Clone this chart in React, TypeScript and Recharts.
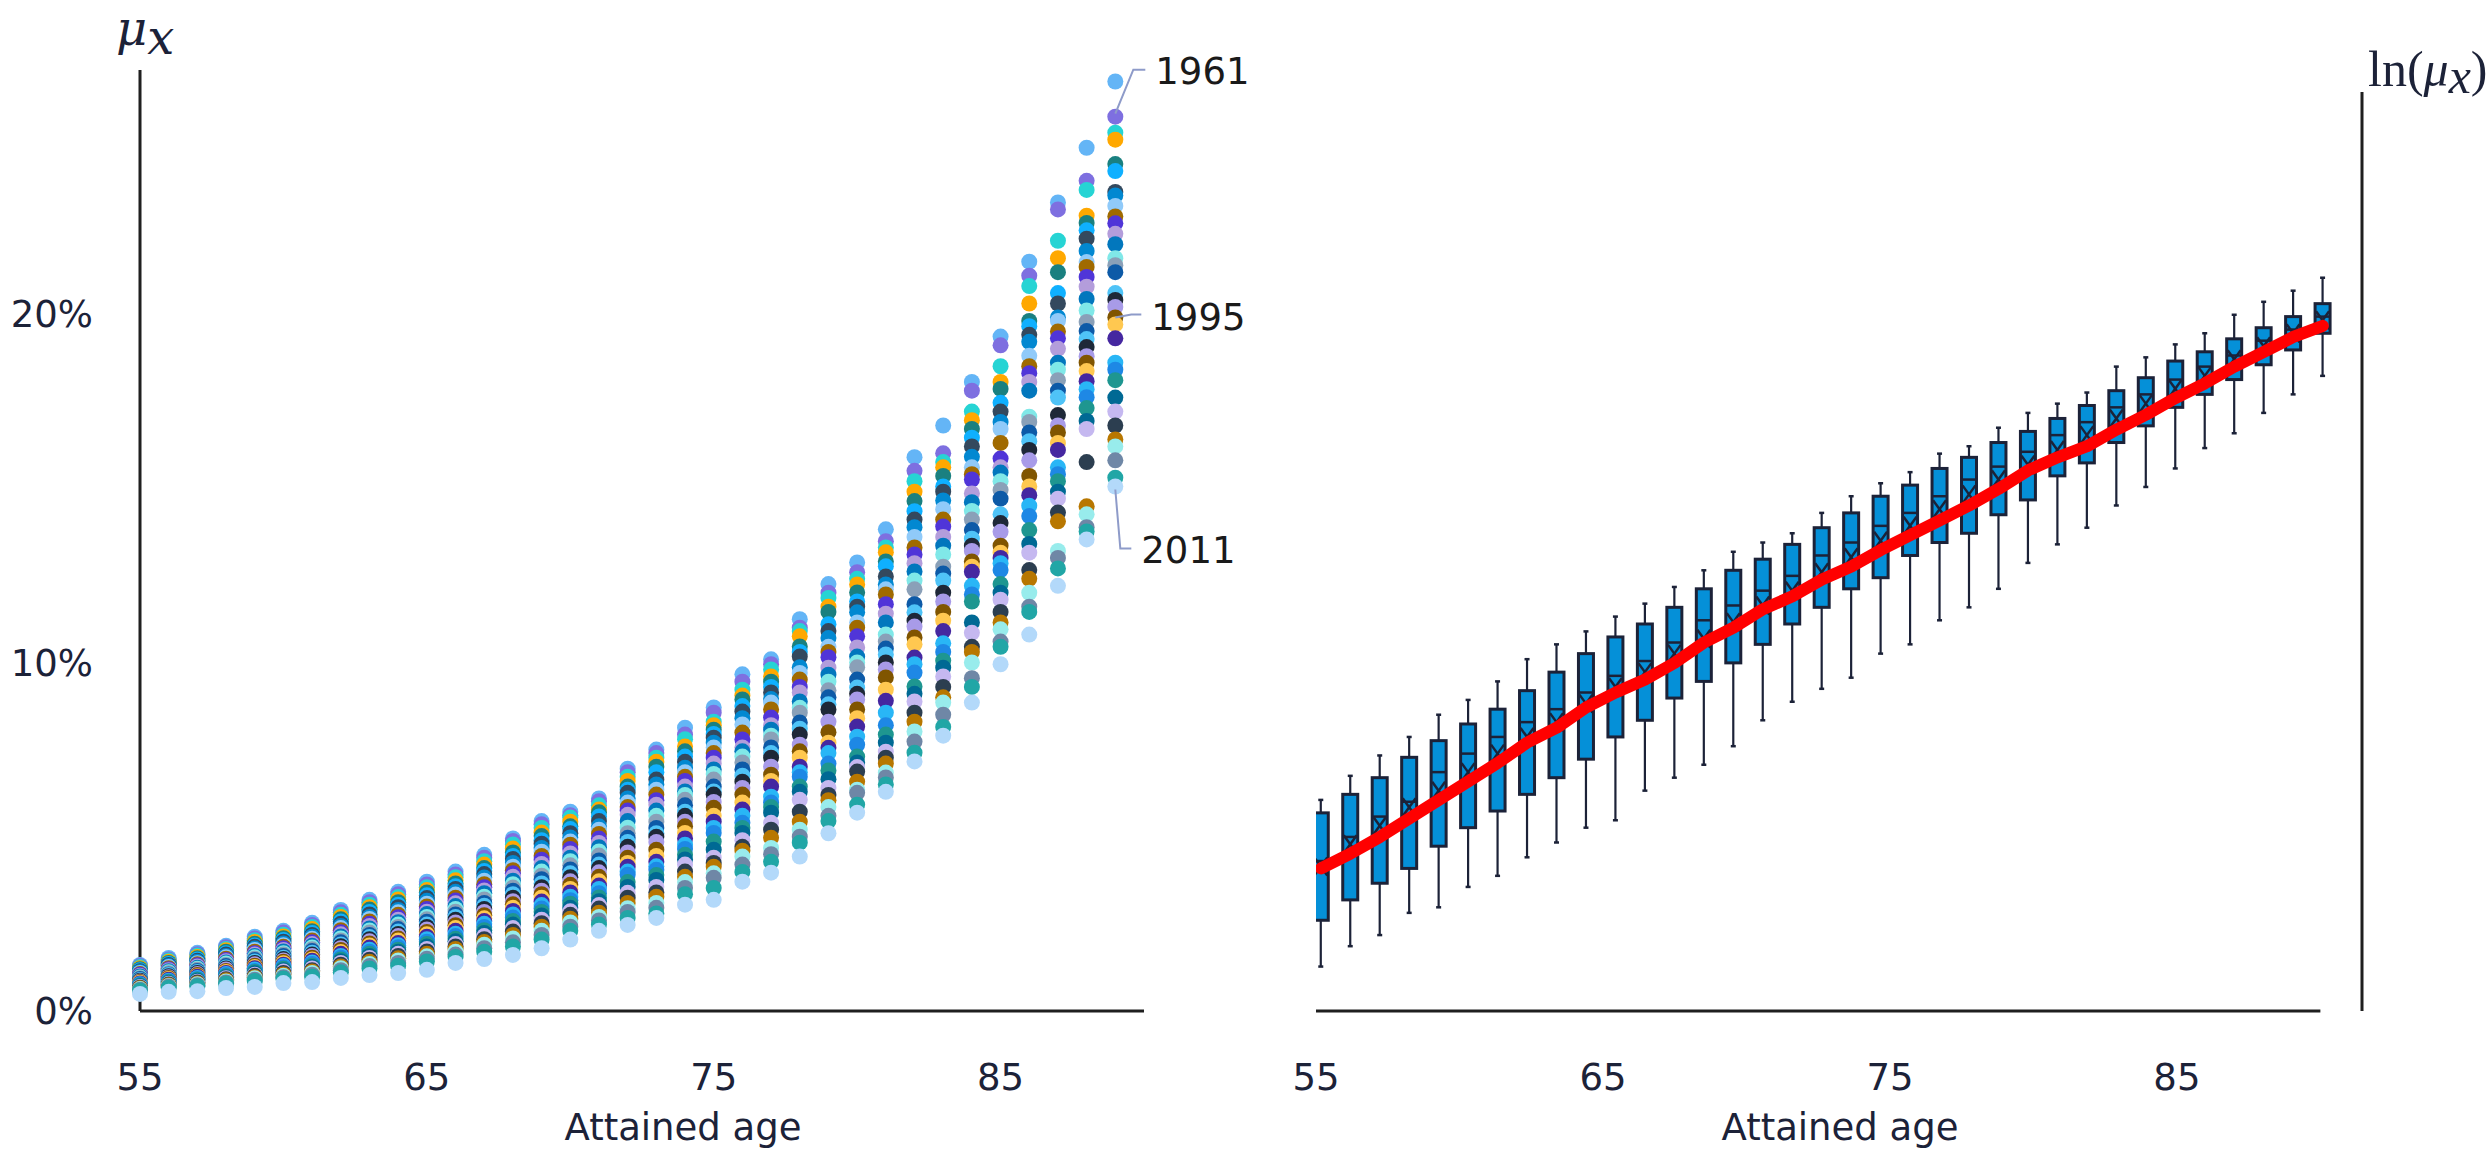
import React from "react";
import {
  ScatterChart,
  Scatter,
  ComposedChart,
  Bar,
  Line,
  XAxis,
  YAxis,
  ReferenceLine,
} from "recharts";

// attained ages shown in both panels
const ages = [
  55, 56, 57, 58, 59, 60, 61, 62, 63, 64, 65, 66, 67, 68, 69, 70, 71, 72,
  73, 74, 75, 76, 77, 78, 79, 80, 81, 82, 83, 84, 85, 86, 87, 88, 89,
];

// mu_x (%) read per age column, top to bottom
const mu55 = [1.32, 1.29, 1.26, 1.23, 1.2, 1.17, 1.14, 1.12, 1.09, 1.06, 1.04, 1.01, 0.99, 0.96, 0.94, 0.92, 0.89, 0.87, 0.85, 0.83, 0.81, 0.79, 0.77, 0.75, 0.73, 0.71, 0.69, 0.67, 0.65, 0.63, 0.61, 0.59, 0.49];
const mu56 = [1.52, 1.48, 1.45, 1.41, 1.38, 1.35, 1.32, 1.29, 1.26, 1.23, 1.2, 1.17, 1.14, 1.11, 1.08, 1.05, 1.03, 1.0, 0.97, 0.95, 0.92, 0.9, 0.87, 0.85, 0.83, 0.8, 0.78, 0.76, 0.74, 0.72, 0.7, 0.67, 0.55];
const mu57 = [1.67, 1.63, 1.59, 1.55, 1.51, 1.48, 1.44, 1.41, 1.37, 1.34, 1.31, 1.28, 1.24, 1.21, 1.18, 1.15, 1.12, 1.09, 1.06, 1.03, 1.0, 0.98, 0.95, 0.92, 0.9, 0.87, 0.84, 0.82, 0.79, 0.77, 0.74, 0.71, 0.57];
const mu58 = [1.87, 1.83, 1.78, 1.74, 1.7, 1.66, 1.62, 1.58, 1.54, 1.5, 1.46, 1.43, 1.39, 1.36, 1.32, 1.29, 1.25, 1.22, 1.19, 1.15, 1.12, 1.09, 1.06, 1.03, 1.0, 0.97, 0.94, 0.91, 0.88, 0.85, 0.82, 0.79, 0.66];
const mu59 = [2.13, 2.08, 2.03, 1.98, 1.93, 1.88, 1.84, 1.79, 1.75, 1.7, 1.66, 1.62, 1.58, 1.54, 1.5, 1.46, 1.42, 1.38, 1.34, 1.3, 1.26, 1.23, 1.19, 1.15, 1.12, 1.08, 1.04, 1.01, 0.97, 0.94, 0.9, 0.86, 0.69];
const mu60 = [2.3, 2.25, 2.19, 2.14, 2.09, 2.04, 1.99, 1.94, 1.89, 1.84, 1.8, 1.75, 1.71, 1.66, 1.62, 1.58, 1.53, 1.49, 1.45, 1.41, 1.37, 1.33, 1.29, 1.25, 1.21, 1.17, 1.13, 1.09, 1.05, 1.01, 0.97, 0.93, 0.8];
const mu61 = [2.53, 2.47, 2.41, 2.35, 2.29, 2.24, 2.18, 2.13, 2.07, 2.02, 1.97, 1.92, 1.87, 1.82, 1.77, 1.72, 1.67, 1.62, 1.58, 1.53, 1.48, 1.44, 1.39, 1.35, 1.3, 1.26, 1.22, 1.17, 1.13, 1.09, 1.04, 0.99, 0.83];
const mu62 = [2.9, 2.83, 2.76, 2.7, 2.63, 2.57, 2.5, 2.44, 2.38, 2.32, 2.26, 2.2, 2.14, 2.08, 2.02, 1.97, 1.91, 1.86, 1.8, 1.75, 1.69, 1.64, 1.58, 1.53, 1.48, 1.43, 1.38, 1.33, 1.28, 1.23, 1.17, 1.11, 0.95];
const mu63 = [3.19, 3.12, 3.05, 2.98, 2.91, 2.84, 2.77, 2.7, 2.64, 2.57, 2.5, 2.44, 2.37, 2.31, 2.25, 2.18, 2.12, 2.06, 2.0, 1.94, 1.88, 1.82, 1.76, 1.7, 1.64, 1.58, 1.52, 1.47, 1.41, 1.35, 1.29, 1.22, 1.03];
const mu64 = [3.42, 3.35, 3.27, 3.2, 3.12, 3.05, 2.98, 2.9, 2.83, 2.76, 2.69, 2.62, 2.55, 2.48, 2.41, 2.35, 2.28, 2.21, 2.15, 2.08, 2.02, 1.95, 1.89, 1.83, 1.76, 1.7, 1.64, 1.58, 1.51, 1.45, 1.38, 1.3, 1.09];
const mu65 = [3.71, 3.63, 3.55, 3.47, 3.4, 3.32, 3.24, 3.16, 3.08, 3.0, 2.93, 2.85, 2.78, 2.7, 2.63, 2.56, 2.48, 2.41, 2.34, 2.27, 2.2, 2.13, 2.06, 1.99, 1.92, 1.85, 1.78, 1.71, 1.64, 1.57, 1.5, 1.42, 1.18];
const mu66 = [4.0, 3.92, 3.84, 3.75, 3.66, 3.58, 3.5, 3.42, 3.34, 3.25, 3.17, 3.09, 3.01, 2.93, 2.85, 2.77, 2.7, 2.62, 2.54, 2.46, 2.38, 2.3, 2.22, 2.15, 2.07, 2.0, 1.92, 1.85, 1.78, 1.7, 1.62, 1.55, 1.38];
const mu67 = [4.48, 4.4, 4.3, 4.2, 4.1, 4.02, 3.93, 3.83, 3.74, 3.64, 3.55, 3.46, 3.38, 3.28, 3.2, 3.1, 3.02, 2.93, 2.84, 2.75, 2.66, 2.58, 2.5, 2.41, 2.32, 2.24, 2.15, 2.06, 1.98, 1.9, 1.8, 1.7, 1.49];
const mu68 = [4.95, 4.88, 4.78, 4.66, 4.55, 4.45, 4.36, 4.25, 4.14, 4.04, 3.95, 3.85, 3.74, 3.64, 3.54, 3.45, 3.35, 3.25, 3.15, 3.06, 2.96, 2.87, 2.77, 2.68, 2.58, 2.48, 2.38, 2.28, 2.18, 2.08, 1.97, 1.85, 1.61];
const mu69 = [5.45, 5.36, 5.25, 5.12, 5.02, 4.9, 4.8, 4.68, 4.57, 4.45, 4.34, 4.22, 4.1, 4.0, 3.88, 3.78, 3.66, 3.55, 3.45, 3.35, 3.25, 3.14, 3.04, 2.94, 2.84, 2.74, 2.62, 2.52, 2.42, 2.3, 2.18, 2.05, 1.8];
const mu70 = [5.72, 5.62, 5.55, 5.43, 5.3, 5.22, 5.1, 4.98, 4.86, 4.77, 4.65, 4.52, 4.4, 4.3, 4.18, 4.06, 3.95, 3.84, 3.72, 3.62, 3.5, 3.4, 3.28, 3.18, 3.08, 2.96, 2.86, 2.76, 2.65, 2.54, 2.42, 2.3, 2.05];
const mu71 = [6.1, 6.02, 5.9, 5.78, 5.7, 5.58, 5.45, 5.3, 5.2, 5.08, 4.95, 4.82, 4.7, 4.58, 4.46, 4.32, 4.2, 4.1, 3.98, 3.85, 3.72, 3.6, 3.5, 3.38, 3.26, 3.15, 3.04, 2.94, 2.82, 2.7, 2.6, 2.48, 2.3];
const mu72 = [6.95, 6.85, 6.72, 6.6, 6.44, 6.35, 6.26, 6.1, 5.98, 5.85, 5.75, 5.63, 5.45, 5.26, 5.1, 4.97, 4.85, 4.71, 4.55, 4.4, 4.25, 4.14, 4.0, 3.91, 3.7, 3.56, 3.39, 3.25, 3.1, 2.95, 2.84, 2.67, 2.47];
const mu73 = [7.5, 7.4, 7.27, 7.15, 7.01, 6.85, 6.64, 6.5, 6.35, 6.21, 6.05, 5.92, 5.75, 5.6, 5.43, 5.25, 5.1, 5.0, 4.85, 4.63, 4.45, 4.28, 4.15, 4.05, 3.9, 3.76, 3.56, 3.4, 3.28, 3.1, 2.96, 2.8, 2.67];
const mu74 = [8.13, 7.93, 7.8, 7.59, 7.45, 7.3, 7.15, 6.98, 6.85, 6.72, 6.6, 6.44, 6.3, 6.2, 6.06, 5.9, 5.72, 5.6, 5.43, 5.3, 5.11, 4.95, 4.77, 4.65, 4.48, 4.35, 4.2, 4.0, 3.85, 3.7, 3.53, 3.35, 3.05];
const mu75 = [8.71, 8.56, 8.3, 8.2, 8.07, 7.95, 7.84, 7.7, 7.56, 7.4, 7.27, 7.1, 6.93, 6.8, 6.64, 6.44, 6.3, 6.21, 6.0, 5.83, 5.6, 5.43, 5.25, 5.11, 4.86, 4.63, 4.4, 4.25, 4.14, 3.95, 3.82, 3.53, 3.19];
const mu76 = [9.66, 9.45, 9.22, 9.05, 8.94, 8.75, 8.59, 8.4, 8.22, 7.99, 7.79, 7.56, 7.45, 7.3, 7.13, 6.93, 6.75, 6.58, 6.4, 6.21, 5.98, 5.78, 5.6, 5.4, 5.25, 5.11, 4.9, 4.71, 4.6, 4.43, 4.2, 3.99, 3.71];
const mu77 = [10.09, 9.95, 9.8, 9.6, 9.45, 9.3, 9.14, 8.95, 8.85, 8.65, 8.42, 8.2, 8.07, 7.9, 7.79, 7.56, 7.4, 7.27, 7.01, 6.78, 6.6, 6.44, 6.15, 5.98, 5.85, 5.69, 5.4, 5.2, 4.97, 4.68, 4.5, 4.28, 3.97];
const mu78 = [11.24, 11.0, 10.9, 10.75, 10.46, 10.3, 10.17, 9.86, 9.7, 9.51, 9.3, 9.14, 8.88, 8.7, 8.56, 8.28, 8.1, 7.93, 7.64, 7.45, 7.27, 7.01, 6.85, 6.72, 6.44, 6.29, 6.06, 5.72, 5.43, 5.2, 5.0, 4.83, 4.43];
const mu79 = [12.25, 12.0, 11.85, 11.6, 11.45, 11.1, 10.9, 10.7, 10.45, 10.3, 10.15, 9.85, 9.65, 9.45, 9.2, 9.0, 8.8, 8.65, 8.3, 8.0, 7.7, 7.55, 7.4, 7.1, 6.9, 6.65, 6.4, 6.2, 6.05, 5.85, 5.6, 5.45, 5.1];
const mu80 = [12.87, 12.59, 12.4, 12.24, 12.01, 11.75, 11.6, 11.44, 11.15, 11.0, 10.75, 10.43, 10.17, 10.0, 9.86, 9.51, 9.28, 9.1, 8.94, 8.65, 8.4, 8.16, 7.87, 7.64, 7.3, 7.13, 7.0, 6.87, 6.58, 6.35, 6.26, 5.92, 5.69];
const mu81 = [13.82, 13.48, 13.3, 13.16, 12.9, 12.76, 12.47, 12.24, 12.1, 11.95, 11.67, 11.4, 11.15, 10.8, 10.6, 10.4, 10.23, 10.0, 9.8, 9.57, 9.22, 8.9, 8.56, 8.2, 7.93, 7.7, 7.44, 7.27, 7.1, 6.84, 6.7, 6.5, 6.29];
const mu82 = [15.89, 15.5, 15.2, 14.9, 14.63, 14.34, 14.1, 13.88, 13.6, 13.3, 13.1, 12.85, 12.61, 12.35, 12.1, 11.67, 11.44, 11.2, 11.03, 10.72, 10.52, 10.14, 9.95, 9.71, 9.31, 9.1, 8.88, 8.56, 8.3, 8.02, 7.73, 7.41, 7.16];
const mu83 = [16.8, 16.0, 15.75, 15.6, 15.35, 15.05, 14.9, 14.65, 14.4, 14.1, 13.9, 13.6, 13.35, 13.1, 12.75, 12.55, 12.35, 12.0, 11.75, 11.45, 11.2, 10.9, 10.55, 10.3, 10.05, 9.85, 9.6, 9.3, 9.0, 8.85, 8.5, 8.15, 7.9];
const mu84 = [18.05, 17.8, 17.2, 16.95, 16.7, 16.45, 16.2, 15.9, 15.6, 15.4, 15.25, 14.85, 14.6, 14.35, 14.1, 13.8, 13.55, 13.35, 13.2, 12.9, 12.75, 12.6, 12.2, 11.95, 11.75, 11.15, 10.85, 10.45, 10.3, 10.0, 9.55, 9.3, 8.85];
const mu85 = [19.35, 19.1, 18.5, 18.05, 17.85, 17.45, 17.2, 16.9, 16.7, 16.3, 15.85, 15.6, 15.45, 15.2, 14.95, 14.7, 14.25, 14.0, 13.75, 13.35, 13.15, 13.0, 12.85, 12.65, 12.25, 12.0, 11.8, 11.45, 11.15, 10.95, 10.6, 10.45, 9.95];
const mu86 = [21.5, 21.1, 20.8, 20.3, 19.8, 19.65, 19.4, 19.2, 18.8, 18.5, 18.3, 18.05, 17.8, 17.05, 16.9, 16.6, 16.35, 16.1, 15.8, 15.35, 15.05, 14.8, 14.5, 14.2, 13.8, 13.4, 13.15, 12.65, 12.4, 12.0, 11.6, 11.45, 10.8];
const mu87 = [23.2, 23.0, 22.1, 21.6, 21.2, 20.6, 20.3, 19.9, 19.8, 19.5, 19.3, 19.0, 18.6, 18.4, 18.1, 17.8, 17.6, 17.1, 16.8, 16.6, 16.3, 16.1, 15.6, 15.4, 15.2, 14.9, 14.7, 14.3, 14.05, 13.2, 13.0, 12.7, 12.2];
const mu88 = [24.77, 23.82, 23.56, 22.82, 22.61, 22.4, 22.16, 21.81, 21.49, 21.35, 21.06, 20.78, 20.43, 20.1, 19.77, 19.51, 19.28, 19.05, 18.79, 18.6, 18.36, 18.07, 17.84, 17.61, 17.3, 16.93, 16.7, 15.75, 14.48, 14.25, 13.88, 13.76, 13.53];
const mu89 = [26.67, 25.66, 25.2, 25.0, 24.3, 24.1, 23.5, 23.4, 23.1, 22.8, 22.6, 22.3, 22.0, 21.6, 21.4, 21.2, 20.6, 20.4, 20.2, 19.9, 19.7, 19.3, 18.6, 18.4, 18.1, 17.6, 17.2, 16.8, 16.4, 16.2, 15.8, 15.3, 15.05];

const muColumns = [
  mu55, mu56, mu57, mu58, mu59, mu60, mu61, mu62, mu63, mu64, mu65, mu66,
  mu67, mu68, mu69, mu70, mu71, mu72, mu73, mu74, mu75, mu76, mu77, mu78,
  mu79, mu80, mu81, mu82, mu83, mu84, mu85, mu86, mu87, mu88, mu89,
];

const labelledYears = ["1961", "1995", "2011"];
const labelledRanks = [1, 19, 32];

const ageTicks = [55, 65, 75, 85];
const rateTicks = [0, 10, 20];

// right panel: ln(mu_x) box plots per age
const whiskerHigh = [-4.26, -4.13, -4.02, -3.92, -3.8, -3.72, -3.62, -3.5, -3.42, -3.35, -3.27, -3.2, -3.11, -3.02, -2.92, -2.87, -2.82, -2.71, -2.62, -2.55, -2.49, -2.39, -2.35, -2.25, -2.17, -2.12, -2.06, -1.92, -1.87, -1.8, -1.74, -1.64, -1.57, -1.51, -1.44];
const q3 = [-4.33, -4.23, -4.14, -4.03, -3.94, -3.85, -3.77, -3.67, -3.57, -3.47, -3.38, -3.31, -3.22, -3.12, -3.02, -2.96, -2.88, -2.79, -2.71, -2.62, -2.56, -2.47, -2.41, -2.33, -2.27, -2.2, -2.13, -2.05, -1.98, -1.89, -1.84, -1.77, -1.71, -1.65, -1.58];
const median = [-4.59, -4.46, -4.35, -4.27, -4.11, -4.01, -3.92, -3.84, -3.77, -3.68, -3.59, -3.51, -3.41, -3.29, -3.21, -3.13, -3.05, -2.94, -2.87, -2.78, -2.71, -2.62, -2.53, -2.46, -2.38, -2.29, -2.22, -2.14, -2.07, -1.99, -1.92, -1.86, -1.78, -1.72, -1.65];
const mean = [-4.62, -4.5, -4.4, -4.3, -4.21, -4.11, -4.01, -3.92, -3.84, -3.74, -3.65, -3.57, -3.47, -3.39, -3.3, -3.21, -3.13, -3.03, -2.95, -2.86, -2.78, -2.69, -2.61, -2.53, -2.45, -2.37, -2.29, -2.2, -2.12, -2.04, -1.97, -1.88, -1.81, -1.74, -1.67];
const q1 = [-4.91, -4.8, -4.71, -4.63, -4.51, -4.41, -4.32, -4.23, -4.14, -4.04, -3.92, -3.83, -3.71, -3.62, -3.52, -3.42, -3.31, -3.22, -3.12, -3.06, -2.94, -2.87, -2.82, -2.72, -2.64, -2.51, -2.44, -2.33, -2.24, -2.14, -2.07, -1.99, -1.91, -1.83, -1.74];
const whiskerLow = [-5.16, -5.05, -4.99, -4.87, -4.84, -4.73, -4.67, -4.57, -4.49, -4.41, -4.37, -4.21, -4.14, -4.07, -3.97, -3.83, -3.73, -3.66, -3.6, -3.47, -3.42, -3.29, -3.22, -3.12, -2.98, -2.88, -2.79, -2.67, -2.57, -2.47, -2.36, -2.28, -2.17, -2.07, -1.97];
const fitted = [-4.63, -4.55, -4.46, -4.36, -4.26, -4.16, -4.06, -3.95, -3.87, -3.76, -3.68, -3.61, -3.52, -3.41, -3.33, -3.23, -3.16, -3.07, -3.0, -2.91, -2.83, -2.75, -2.67, -2.58, -2.48, -2.41, -2.35, -2.26, -2.18, -2.09, -2.01, -1.92, -1.84, -1.76, -1.7];

const rankColors = [
  "#64b5f6", "#7e6fe0", "#26d4d4", "#ffa800", "#1a8080", "#0fb0ff", "#34495e",
  "#0288d1", "#90caf9", "#a06a00", "#5035d8", "#b39ddb", "#0277bd", "#80e8e8",
  "#8aa0b8", "#0d5aa7", "#4fc3f7", "#1e2838", "#a89be8", "#805500", "#ffc850",
  "#4527a0", "#29b6f6", "#1e88e5", "#1e9690", "#006994", "#c5b8f0", "#2c3e50",
  "#b87700", "#98ecec", "#6f87a6", "#21a6a6", "#b3d9fa",
];

const ink = "#1c2238";
const axisInk = "#1f1f1f";
const sans = "DejaVu Sans";

const rankSeries = rankColors.map((color, k) => ({
  color,
  points: ages.map((age, i) => ({ age, mu: muColumns[i][k] })),
}));

const labelPoints = labelledYears.map((year, i) => ({
  age: 89,
  mu: mu89[labelledRanks[i]],
  year,
}));

const boxData = ages.map((age, i) => ({
  age,
  span: [whiskerLow[i], whiskerHigh[i]],
  lo: whiskerLow[i],
  q1: q1[i],
  med: median[i],
  mean: mean[i],
  q3: q3[i],
  hi: whiskerHigh[i],
  fit: fitted[i],
}));

// leader line geometry relative to the labelled dot
const leaders: Record<string, { path: string; tx: number; ty: number }> = {
  "1961": { path: "M0,-3 L18,-47 L30,-47", tx: 40, ty: -45 },
  "1995": { path: "M0,0 L16,-3 L26,-3", tx: 36, ty: 0 },
  "2011": { path: "M0,3 L5,62 L16,62", tx: 26, ty: 64 },
};

function YearLabel(props: any) {
  const { cx, cy, payload } = props;
  const l = leaders[payload.year];
  return (
    <g transform={`translate(${cx},${cy})`}>
      <path d={l.path} fill="none" stroke="#8e9bc9" strokeWidth={2} />
      <text
        x={l.tx}
        y={l.ty}
        dominantBaseline="central"
        fontFamily={sans}
        fontSize={37}
        fill="#1a1a1a"
      >
        {payload.year}
      </text>
    </g>
  );
}

function BoxShape(props: any) {
  const { x, y, width, height, payload } = props;
  const top = Math.min(y, y + height);
  const h = Math.abs(height);
  const { lo, hi } = payload;
  const py = (v: number) => top + ((hi - v) / (hi - lo)) * h;
  const cx = x + width / 2;
  const yQ3 = py(payload.q3);
  const yQ1 = py(payload.q1);
  const yMean = py(payload.mean);
  const half = width / 2 - 1;
  return (
    <g>
      <line x1={cx} x2={cx} y1={py(hi)} y2={yQ3} stroke={ink} strokeWidth={2.2} />
      <line x1={cx} x2={cx} y1={yQ1} y2={py(lo)} stroke={ink} strokeWidth={2.2} />
      <line x1={cx - 2.5} x2={cx + 2.5} y1={py(hi)} y2={py(hi)} stroke={ink} strokeWidth={2.5} />
      <line x1={cx - 2.5} x2={cx + 2.5} y1={py(lo)} y2={py(lo)} stroke={ink} strokeWidth={2.5} />
      <rect x={x} y={yQ3} width={width} height={yQ1 - yQ3} fill="#0590d8" stroke={ink} strokeWidth={3} />
      <line x1={x} x2={x + width} y1={py(payload.med)} y2={py(payload.med)} stroke={ink} strokeWidth={2.5} />
      <line x1={cx - half} x2={cx + half} y1={yMean - 9} y2={yMean + 9} stroke={ink} strokeWidth={2.5} />
      <line x1={cx - half} x2={cx + half} y1={yMean + 9} y2={yMean - 9} stroke={ink} strokeWidth={2.5} />
    </g>
  );
}

const tickStyle = { fill: ink, fontSize: 37, fontFamily: sans };

export default function App() {
  return (
    <div
      style={{
        position: "absolute",
        left: 0,
        top: 0,
        width: 2491,
        height: 1157,
        background: "#fff",
        overflow: "hidden",
      }}
    >
      <div style={{ position: "absolute", left: 0, top: 0 }}>
        <ScatterChart width={1300} height={1157} margin={{ top: 70, right: 156, bottom: 116, left: 0 }}>
          <XAxis
            type="number"
            dataKey="age"
            domain={[55, 90]}
            ticks={ageTicks}
            interval={0}
            height={30}
            axisLine={{ stroke: axisInk, strokeWidth: 3 }}
            tickLine={false}
            tickSize={0}
            tickMargin={53}
            tick={tickStyle}
          />
          <YAxis
            type="number"
            dataKey="mu"
            domain={[0, 27]}
            ticks={rateTicks}
            interval={0}
            width={140}
            tickFormatter={(v) => `${v}%`}
            axisLine={{ stroke: axisInk, strokeWidth: 3 }}
            tickLine={false}
            tickSize={0}
            tickMargin={47}
            tick={tickStyle}
          />
          {rankSeries.map((s, k) => (
            <Scatter
              key={k}
              data={s.points}
              fill={s.color}
              isAnimationActive={false}
              shape={(p: any) => <circle cx={p.cx} cy={p.cy} r={8} fill={s.color} />}
            />
          ))}
          <Scatter data={labelPoints} isAnimationActive={false} shape={YearLabel} />
        </ScatterChart>
      </div>

      <div style={{ position: "absolute", left: 1200, top: 0 }}>
        <ComposedChart
          width={1291}
          height={1157}
          data={boxData}
          margin={{ top: 92, right: 119, bottom: 116, left: 116 }}
        >
          <XAxis
            xAxisId="box"
            type="number"
            dataKey="age"
            domain={[54.83, 90.33]}
            allowDataOverflow
            hide
            height={0}
          />
          <XAxis
            xAxisId="lab"
            type="number"
            dataKey="age"
            domain={[55, 91.45]}
            allowDataOverflow
            ticks={ageTicks}
            interval={0}
            height={30}
            axisLine={false}
            tickLine={false}
            tickSize={0}
            tickMargin={53}
            tick={tickStyle}
          />
          <YAxis
            orientation="right"
            type="number"
            domain={[-5.4, -0.437]}
            allowDataOverflow
            width={10}
            tick={false}
            tickLine={false}
            axisLine={{ stroke: axisInk, strokeWidth: 3 }}
          />
          <ReferenceLine
            xAxisId="lab"
            segment={[
              { x: 55, y: -5.4 },
              { x: 90, y: -5.4 },
            ]}
            stroke={axisInk}
            strokeWidth={3}
            ifOverflow="visible"
          />
          <Bar xAxisId="box" dataKey="span" barSize={15} isAnimationActive={false} shape={BoxShape} />
          <Line
            xAxisId="box"
            type="linear"
            dataKey="fit"
            stroke="#ff0000"
            strokeWidth={12}
            strokeLinecap="round"
            strokeLinejoin="round"
            dot={false}
            activeDot={false}
            isAnimationActive={false}
          />
        </ComposedChart>
      </div>

      <div
        style={{
          position: "absolute",
          left: 116,
          top: 4,
          fontFamily: "DejaVu Serif",
          fontStyle: "italic",
          fontSize: 48,
          lineHeight: "48px",
          color: ink,
        }}
      >
        μ<span style={{ position: "relative", top: 9 }}>x</span>
      </div>
      <div
        style={{
          position: "absolute",
          left: 2368,
          top: 44,
          fontFamily: "Liberation Serif",
          fontSize: 50,
          lineHeight: "50px",
          color: ink,
        }}
      >
        ln(<span style={{ fontStyle: "italic" }}>μ</span>
        <span style={{ fontStyle: "italic", position: "relative", top: 7 }}>x</span>)
      </div>
      <div
        style={{
          position: "absolute",
          left: 483,
          width: 400,
          top: 1109,
          textAlign: "center",
          fontFamily: sans,
          fontSize: 37,
          lineHeight: "37px",
          color: ink,
        }}
      >
        Attained age
      </div>
      <div
        style={{
          position: "absolute",
          left: 1640,
          width: 400,
          top: 1109,
          textAlign: "center",
          fontFamily: sans,
          fontSize: 37,
          lineHeight: "37px",
          color: ink,
        }}
      >
        Attained age
      </div>
    </div>
  );
}
